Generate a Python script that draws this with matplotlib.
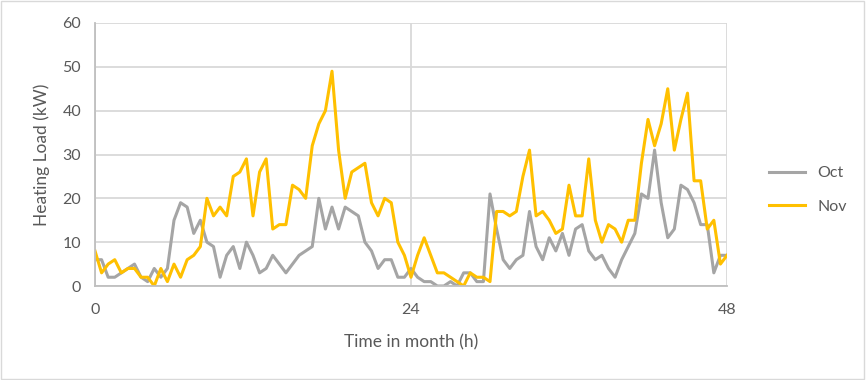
import numpy as np
import matplotlib
matplotlib.use('Agg')
from matplotlib import pyplot as plt
from matplotlib.patches import Rectangle

# half-hourly readings, 0 .. 48 h
hours = np.arange(0, 48.5, 0.5)

oct_load = [6, 6, 2, 2, 3, 4, 5, 2, 1, 4, 2, 4, 15, 19, 18, 12, 15, 10, 9, 2,
            7, 9, 4, 10, 7, 3, 4, 7, 5, 3, 5, 7, 8, 9, 20, 13, 18, 13, 18, 17,
            16, 10, 8, 4, 6, 6, 2, 2, 4, 2, 1, 1, 0, 0, 1, 0, 3, 3, 1, 1,
            21, 13, 6, 4, 6, 7, 17, 9, 6, 11, 8, 12, 7, 13, 14, 8, 6, 7, 4, 2,
            6, 9, 12, 21, 20, 31, 19, 11, 13, 23, 22, 19, 14, 14, 3, 7, 7]

nov_load = [8, 3, 5, 6, 3, 4, 4, 2, 2, 0, 4, 1, 5, 2, 6, 7, 9, 20, 16, 18,
            16, 25, 26, 29, 16, 26, 29, 13, 14, 14, 23, 22, 20, 32, 37, 40, 49, 31, 20, 26,
            27, 28, 19, 16, 20, 19, 10, 7, 2, 7, 11, 7, 3, 3, 2, 1, 0, 3, 2, 2,
            1, 17, 17, 16, 17, 25, 31, 16, 17, 15, 12, 13, 23, 16, 16, 29, 15, 10, 14, 13,
            10, 15, 15, 28, 38, 32, 37, 45, 31, 38, 44, 24, 24, 13, 15, 5, 7]

x_ticks = [0, 24, 48]
y_ticks = [0, 10, 20, 30, 40, 50, 60]

plt.rcParams['font.family'] = ['Lato', 'DejaVu Sans']
text_col = '#595959'

fig = plt.figure(figsize=(8.66, 3.80), dpi=100)
ax = fig.add_axes([95 / 866, 1 - 286 / 380, 632 / 866, 263 / 380])

# chart border
fig.patches.append(Rectangle((0.001, 0.002), 0.997, 0.995, transform=fig.transFigure,
                             fill=False, edgecolor='#D9D9D9', linewidth=1))

ax.plot(hours, oct_load, color='#A5A5A5', linewidth=2.2, label='Oct')
ax.plot(hours, nov_load, color='#FFC000', linewidth=2.2, label='Nov')

ax.set_xlim(0, 48)
ax.set_ylim(0, 60)
ax.set_xticks(x_ticks)
ax.set_yticks(y_ticks)
ax.grid(True, color='#D9D9D9', linewidth=1.3)
ax.set_axisbelow(True)
ax.tick_params(length=0, labelsize=11.5, colors=text_col)
ax.tick_params(axis='x', pad=12)
ax.tick_params(axis='y', pad=10)

for side in ['top', 'right']:
    ax.spines[side].set_visible(False)
for side in ['left', 'bottom']:
    ax.spines[side].set_color('#BFBFBF')
    ax.spines[side].set_linewidth(1.3)

# axis titles placed in figure pixels
fig.text(411 / 866, 1 - 342 / 380, 'Time in month (h)', fontsize=12.5,
         color=text_col, ha='center', va='center')
fig.text(42 / 866, 1 - 155 / 380, 'Heating Load (kW)', fontsize=12.5,
         color=text_col, ha='center', va='center', rotation=90)

fig.legend(loc='center left', bbox_to_anchor=(755 / 866, 1 - 190 / 380),
           frameon=False, fontsize=11.5, handlelength=2.2, labelspacing=1.2,
           labelcolor=text_col)

fig.savefig('out.png', dpi=100)
